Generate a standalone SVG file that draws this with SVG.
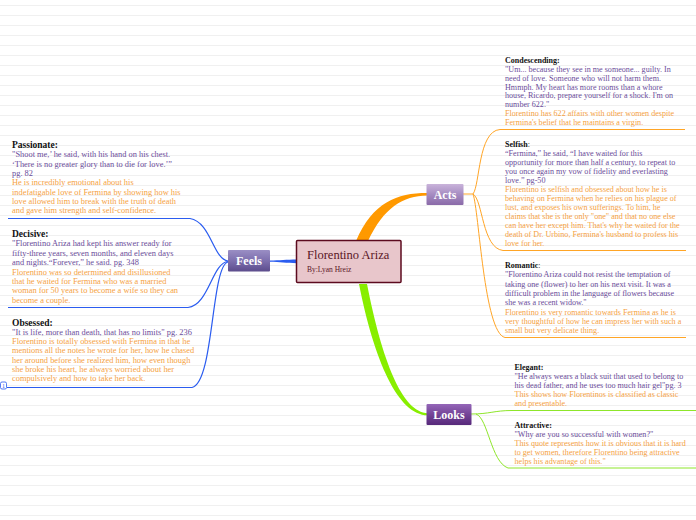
<svg xmlns="http://www.w3.org/2000/svg" width="696" height="520" viewBox="0 0 696 520">
<defs>
<pattern id="rule" width="696" height="10" patternUnits="userSpaceOnUse">
<line x1="0" y1="5.5" x2="696" y2="5.5" stroke="#f0f0f0" stroke-width="1"/>
</pattern>
<linearGradient id="gFeels" x1="0" y1="0" x2="0" y2="1">
<stop offset="0" stop-color="#9a8ec4"/><stop offset="0.5" stop-color="#7d6fae"/><stop offset="1" stop-color="#5c4c8c"/>
</linearGradient>
<linearGradient id="gActs" x1="0" y1="0" x2="0" y2="1">
<stop offset="0" stop-color="#c9b3da"/><stop offset="0.5" stop-color="#a68cc2"/><stop offset="1" stop-color="#8a6aa8"/>
</linearGradient>
<linearGradient id="gLooks" x1="0" y1="0" x2="0" y2="1">
<stop offset="0" stop-color="#9466b8"/><stop offset="0.5" stop-color="#744497"/><stop offset="1" stop-color="#56287a"/>
</linearGradient>
<style>
text{font-family:"Liberation Serif","Times New Roman",serif}
.lt{font-size:9.5px;font-weight:bold;fill:#111}
.lb{font-size:8.4px}
.rt{font-size:8px;font-weight:bold;fill:#111}
.rb{font-size:8.1px}
.p{fill:#6b4c9a}
.o{fill:#f5a142}
.nl{font-size:12px;font-weight:bold;fill:#fff;text-anchor:middle}
.bl{fill:none;stroke:#2a5cf0;stroke-width:1.2}
.ol{fill:none;stroke:#ffa526;stroke-width:1}
.gl{fill:none;stroke:#8ee62a;stroke-width:1}
</style>
</defs>
<rect width="696" height="520" fill="#fff"/>
<rect width="696" height="520" fill="url(#rule)"/>

<g id="connectors">
<path d="M356 241 C373 202 397 193 427 193 L427 195.4 C403 196 384 207 368 241 Z" fill="#ff9900"/>
<path d="M359 284 C374 360 398 415.6 428 415.3 L428 413.2 C402 412.6 382 360 367 284 Z" fill="#88ee00"/>
<path d="M270 260.4 C280 260.2 286 259.6 297 259.4 L297 263.2 C286 263 280 262.2 270 261.8 Z" fill="#2a5cf0"/>
<path class="bl" d="M228 261 C213 259 211 222 190 218.5 L8 218.5"/>
<path class="bl" d="M228 261.5 C212 263 209 305 188 307.5 L8 307.5"/>
<path class="bl" d="M228 262 C211 266 214 383 192 387.5 L7 387.5"/>
<path class="ol" d="M463 194 L473 194 C480 185 478 131 500 129.5 L685 129.5"/>
<path class="ol" d="M473 194 C483 200 482 248 503 250.5 L686 250.5"/>
<path class="ol" d="M473 194 C479 210 484 333 505 337.5 L686 337.5"/>
<path class="gl" d="M471 414 C490 414 494 410.5 512 410.5 L696 410.5"/>
<path class="gl" d="M476 414 C488 418 491 462 508 468 L696 468"/>
</g>

<g id="center">
<rect x="296.5" y="240.5" width="104.5" height="42" rx="1" fill="#e8c6cb" stroke="#5c0b1f" stroke-width="1.5"/>
<text x="307" y="259" font-size="12.5" fill="#5a1525">Florentino Ariza</text>
<text x="307" y="272" font-size="7.5" fill="#5a1525">By:Lyan Hreiz</text>
</g>

<g id="feels">
<rect x="228" y="250" width="42" height="21.5" rx="1" fill="url(#gFeels)"/>
<text class="nl" x="249" y="265">Feels</text>
</g>
<g id="acts">
<rect x="426.5" y="184" width="37" height="21" rx="1" fill="url(#gActs)"/>
<text class="nl" x="445" y="199">Acts</text>
</g>
<g id="looks">
<rect x="426.5" y="404" width="45" height="21" rx="1" fill="url(#gLooks)"/>
<text class="nl" x="449" y="419" font-size="11.5">Looks</text>
</g>

<g id="passionate">
<text class="lt" x="12" y="148">Passionate:</text>
<text class="lb p"><tspan x="12" y="157.3">"Shoot me,’ he said, with his hand on his chest.</tspan><tspan x="12" y="166.6">‘There is no greater glory than to die for love.’”</tspan><tspan x="12" y="175.9">pg. 82</tspan></text>
<text class="lb o"><tspan x="12" y="185.2">He is incredibly emotional about his</tspan><tspan x="12" y="194.5">indefatigable love of Fermina by showing how his</tspan><tspan x="12" y="203.8">love allowed him to break with the truth of death</tspan><tspan x="12" y="213.1">and gave him strength and self-confidence.</tspan></text>
</g>

<g id="decisive">
<text class="lt" x="12" y="237">Decisive:</text>
<text class="lb p"><tspan x="12" y="246.4">"Florentino Ariza had kept his answer ready for</tspan><tspan x="12" y="255.8">fifty-three years, seven months, and eleven days</tspan><tspan x="12" y="265.2">and nights.“Forever,” he said. pg. 348</tspan></text>
<text class="lb o"><tspan x="12" y="274.6">Florentino was so determined and disillusioned</tspan><tspan x="12" y="284">that he waited for Fermina who was a married</tspan><tspan x="12" y="293.4">woman for 50 years to become a wife so they can</tspan><tspan x="12" y="302.8">become a couple.</tspan></text>
</g>

<g id="obsessed">
<text class="lt" x="12" y="325.5">Obsessed:</text>
<text class="lb p"><tspan x="12" y="334.8">"It is life, more than death, that has no limits" pg. 236</tspan></text>
<text class="lb o"><tspan x="12" y="344.1">Florentino is totally obsessed with Fermina in that he</tspan><tspan x="12" y="353.4">mentions all the notes he wrote for her, how he chased</tspan><tspan x="12" y="362.7">her around before she realized him, how even though</tspan><tspan x="12" y="372">she broke his heart, he always worried about her</tspan><tspan x="12" y="381.3">compulsively and how to take her back.</tspan></text>
<rect x="0.5" y="382" width="6" height="7" rx="1.5" fill="#fff" stroke="#2a5cf0" stroke-width="0.8"/>
<text x="3.5" y="387.6" font-size="6" fill="#2a5cf0" text-anchor="middle">1</text>
</g>

<g id="condescending">
<text class="rt" x="505" y="62.8">Condescending:</text>
<text class="rb p"><tspan x="505" y="71.7">"Um... because they see in me someone... guilty. In</tspan><tspan x="505" y="80.6">need of love. Someone who will not harm them.</tspan><tspan x="505" y="89.5">Hmmph. My heart has more rooms than a whore</tspan><tspan x="505" y="98.4">house, Ricardo, prepare yourself for a shock. I'm on</tspan><tspan x="505" y="107.3">number 622."</tspan></text>
<text class="rb o"><tspan x="505" y="116.3">Florentino has 622 affairs with other women despite</tspan><tspan x="505" y="125.2">Fermina's belief that he maintains a virgin.</tspan></text>
</g>

<g id="selfish">
<text class="rt" x="505" y="147.3">Selfish<tspan font-weight="normal">:</tspan></text>
<text class="rb p"><tspan x="505" y="156.3">“Fermina,” he said, “I have waited for this</tspan><tspan x="505" y="165.3">opportunity for more than half a century, to repeat to</tspan><tspan x="505" y="174.3">you once again my vow of fidelity and everlasting</tspan><tspan x="505" y="183.3">love.” pg-50</tspan></text>
<text class="rb o"><tspan x="505" y="192.3">Florentino is selfish and obsessed about how he is</tspan><tspan x="505" y="201.3">behaving on Fermina when he relies on his plague of</tspan><tspan x="505" y="210.3">lust, and exposes his own sufferings. To him, he</tspan><tspan x="505" y="219.3">claims that she is the only "one" and that no one else</tspan><tspan x="505" y="228.3">can have her except him. That's why he waited for the</tspan><tspan x="505" y="237.3">death of Dr. Urbino, Fermina's husband to profess his</tspan><tspan x="505" y="246.3">love for her.</tspan></text>
</g>

<g id="romantic">
<text class="rt" x="505" y="268">Romantic<tspan font-weight="normal">:</tspan></text>
<text class="rb p"><tspan x="505" y="277.3">"Florentino Ariza could not resist the temptation of</tspan><tspan x="505" y="286.6">taking one (flower) to her on his next visit. It was a</tspan><tspan x="505" y="295.9">difficult problem in the language of flowers because</tspan><tspan x="505" y="305.2">she was a recent widow."</tspan></text>
<text class="rb o"><tspan x="505" y="314.5">Florentino is very romantic towards Fermina as he is</tspan><tspan x="505" y="323.8">very thoughtful of how he can impress her with such a</tspan><tspan x="505" y="333.1">small but very delicate thing.</tspan></text>
</g>

<g id="elegant">
<text class="rt" x="514.5" y="369.5">Elegant:</text>
<text class="rb p"><tspan x="514.5" y="378.5">"He always wears a black suit that used to belong to</tspan><tspan x="514.5" y="387.5">his dead father, and he uses too much hair gel"pg. 3</tspan></text>
<text class="rb o"><tspan x="514.5" y="396.5">This shows how Florentinos is classified as classic</tspan><tspan x="514.5" y="405.5">and presentable.</tspan></text>
</g>

<g id="attractive">
<text class="rt" x="514.5" y="428">Attractive:</text>
<text class="rb p"><tspan x="514.5" y="437">"Why are you so successful with women?"</tspan></text>
<text class="rb o"><tspan x="514.5" y="446">This quote represents how it is obvious that it is hard</tspan><tspan x="514.5" y="455">to get women, therefore Florentino being attractive</tspan><tspan x="514.5" y="464">helps his advantage of this."</tspan></text>
</g>
</svg>
